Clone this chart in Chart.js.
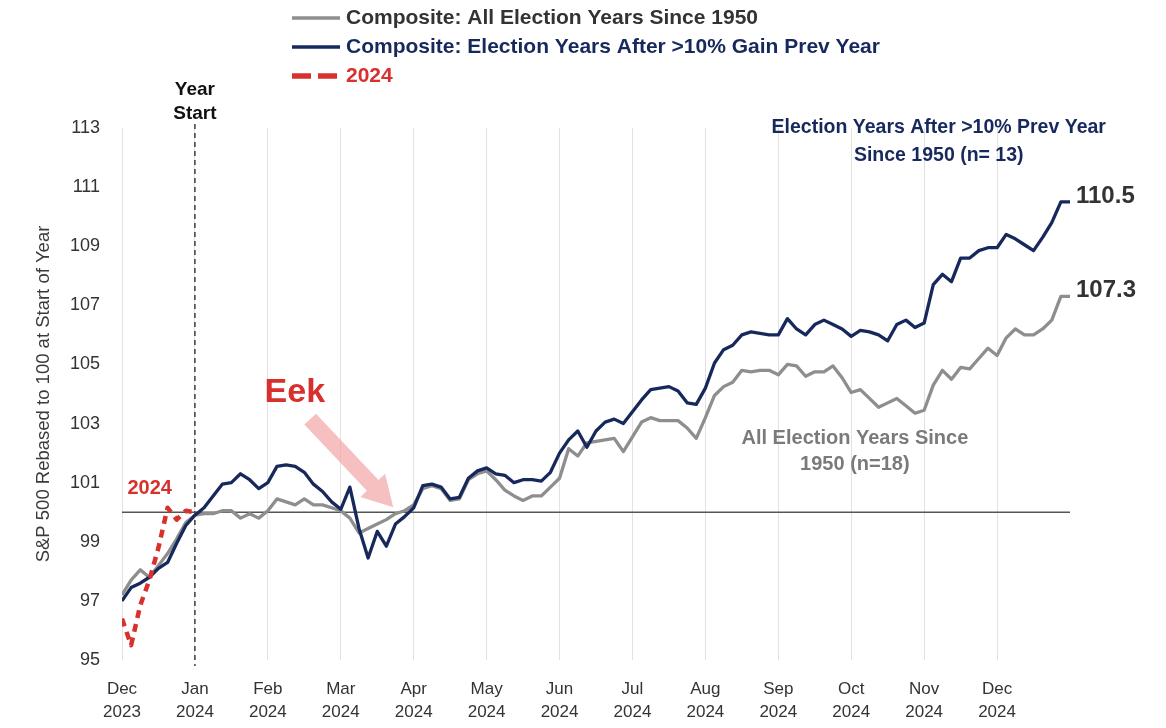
<!DOCTYPE html>
<html>
<head>
<meta charset="utf-8">
<script src="https://cdn.jsdelivr.net/npm/chart.js@4.4.1/dist/chart.umd.min.js"></script>
<style>
  html, body { margin: 0; padding: 0; background: #fff; }
  #chartContainer { display: block; }
</style>
</head>
<body>
<canvas id="chartContainer" width="1166" height="728"></canvas>
<script>
// Month ticks, Dec 2023 .. Dec 2024
var monthLabels = ['Dec', 'Jan', 'Feb', 'Mar', 'Apr', 'May', 'Jun', 'Jul', 'Aug', 'Sep', 'Oct', 'Nov', 'Dec'];
var yearLabels = ['2023', '2024', '2024', '2024', '2024', '2024', '2024', '2024', '2024', '2024', '2024', '2024', '2024'];
var yTicks = [95, 97, 99, 101, 103, 105, 107, 109, 111, 113];

// Values are sampled 8 times per month, starting Dec 1 2023
var stepsPerMonth = 8;

// Composite: all election years since 1950 (n=18)
var allElectionYears = [
    97.2, 97.7, 98.05, 97.8, 98.2, 98.6, 99.1, 99.65,
    99.9, 99.95, 99.95, 100.05, 100.05, 99.8, 99.95, 99.8,
    100.05, 100.45, 100.35, 100.25, 100.45, 100.25, 100.25, 100.15,
    100.05, 99.8, 99.3, 99.45, 99.6, 99.75, 99.95, 100.05,
    100.25, 100.8, 100.9, 100.8, 100.4, 100.45, 101.1, 101.3,
    101.4, 101.1, 100.75, 100.55, 100.4, 100.55, 100.55, 100.85,
    101.15, 102.15, 101.9, 102.35, 102.4, 102.45, 102.5, 102.05,
    102.55, 103.05, 103.2, 103.1, 103.1, 103.1, 102.85, 102.5,
    103.2, 103.95, 104.25, 104.4, 104.8, 104.75, 104.8, 104.8,
    104.65, 105.0, 104.95, 104.6, 104.75, 104.75, 104.95, 104.55,
    104.05, 104.15, 103.85, 103.55, 103.7, 103.85, 103.6, 103.35,
    103.45, 104.3, 104.8, 104.5, 104.9, 104.85, 105.2, 105.55,
    105.3, 105.9, 106.2, 106.0, 106.0, 106.2, 106.5, 107.3,
    107.3
];

// Composite: election years after a >10% gain the previous year (n=13)
var afterGainYears = [
    97.0, 97.45, 97.6, 97.8, 98.1, 98.3, 98.95, 99.55,
    99.9, 100.15, 100.55, 100.95, 101.0, 101.3, 101.1, 100.8,
    101.0, 101.55, 101.6, 101.55, 101.35, 100.95, 100.7, 100.35,
    100.1, 100.85, 99.45, 98.45, 99.35, 98.85, 99.6, 99.85,
    100.15, 100.9, 100.95, 100.85, 100.45, 100.5, 101.15, 101.4,
    101.5, 101.3, 101.25, 101.0, 101.1, 101.1, 101.05, 101.35,
    102.0, 102.45, 102.75, 102.2, 102.75, 103.05, 103.15, 103.0,
    103.4, 103.8, 104.15, 104.2, 104.25, 104.1, 103.7, 103.65,
    104.2, 105.05, 105.5, 105.65, 106.0, 106.1, 106.05, 106.0,
    106.0, 106.55, 106.2, 106.0, 106.35, 106.5, 106.35, 106.2,
    105.95, 106.15, 106.1, 106.0, 105.8, 106.35, 106.5, 106.25,
    106.4, 107.7, 108.05, 107.8, 108.6, 108.6, 108.85, 108.95,
    108.95, 109.4, 109.25, 109.05, 108.85, 109.3, 109.8, 110.5,
    110.5
];

// 2024 so far (December 2023 run-up)
var year2024 = [96.4, 95.5, 96.85, 97.7, 98.8, 100.15, 99.75, 100.05, 100.0];

var baseline = [100, 100];

function toPoints(values) {
    return values.map(function (v, i) { return { x: i / stepsPerMonth, y: v }; });
}

var colors = {
    grey: '#8e8e8e',
    navy: '#17295c',
    red: '#d8302c'
};

var overlayPlugin = {
    id: 'overlay',
    beforeDatasetsDraw: function (chart) {
        var ctx = chart.ctx;
        var area = chart.chartArea;
        var xs = chart.scales.x, ys = chart.scales.y;

        // Year start marker
        var x = xs.getPixelForValue(1);
        ctx.save();
        ctx.strokeStyle = '#111';
        ctx.lineWidth = 1.2;
        ctx.setLineDash([5, 4]);
        ctx.beginPath();
        ctx.moveTo(x, area.top - 4);
        ctx.lineTo(x, area.bottom + 6);
        ctx.stroke();
        ctx.restore();

        // "Eek" arrow
        var x0 = xs.getPixelForValue(2.58), y0 = ys.getPixelForValue(103.15);
        var x1 = xs.getPixelForValue(3.72), y1 = ys.getPixelForValue(100.17);
        var ang = Math.atan2(y1 - y0, x1 - x0);
        var len = Math.hypot(x1 - x0, y1 - y0);
        var shaft = 8, head = 17, headLen = 30;
        ctx.save();
        ctx.translate(x0, y0);
        ctx.rotate(ang);
        ctx.fillStyle = 'rgba(243, 165, 165, 0.7)';
        ctx.beginPath();
        ctx.moveTo(0, -shaft);
        ctx.lineTo(len - headLen, -shaft);
        ctx.lineTo(len - headLen, -head);
        ctx.lineTo(len, 0);
        ctx.lineTo(len - headLen, head);
        ctx.lineTo(len - headLen, shaft);
        ctx.lineTo(0, shaft);
        ctx.closePath();
        ctx.fill();
        ctx.restore();
    },
    afterDatasetsDraw: function (chart) {
        var ctx = chart.ctx;
        var area = chart.chartArea;
        var xs = chart.scales.x, ys = chart.scales.y;
        var family = '"Liberation Sans", Arial, sans-serif';

        function text(str, px, py, size, color, align) {
            ctx.font = 'bold ' + size + 'px ' + family;
            ctx.fillStyle = color;
            ctx.textAlign = align || 'center';
            ctx.textBaseline = 'middle';
            ctx.fillText(str, px, py);
        }
        function textAt(str, xv, yv, size, color, align) {
            text(str, xs.getPixelForValue(xv), ys.getPixelForValue(yv), size, color, align);
        }

        ctx.save();

        // Year start caption
        var jan = xs.getPixelForValue(1);
        text('Year', jan, area.top - 38, 19, '#111');
        text('Start', jan, area.top - 14, 19, '#111');

        // Series captions
        textAt('Election Years After >10% Prev Year', 11.2, 113.0, 19.5, colors.navy);
        textAt('Since 1950 (n= 13)', 11.2, 112.05, 19.5, colors.navy);
        textAt('All Election Years Since', 10.05, 102.5, 20, '#7a7a7a');
        textAt('1950 (n=18)', 10.05, 101.6, 20, '#7a7a7a');
        textAt('Eek', 2.37, 104.06, 34, colors.red);
        textAt('2024', 0.38, 100.8, 20, colors.red);

        // End-of-year values
        [afterGainYears, allElectionYears].forEach(function (series) {
            var last = series[series.length - 1];
            var px = xs.getPixelForValue((series.length - 1) / stepsPerMonth) + 6;
            var py = ys.getPixelForValue(last) - 6;
            text(last.toFixed(1), px, py, 24, '#333', 'left');
        });

        // Legend
        var rows = [
            { label: 'Composite: All Election Years Since 1950', color: colors.grey, text: '#333', dash: [], width: 3.5 },
            { label: 'Composite: Election Years After >10% Gain Prev Year', color: colors.navy, text: colors.navy, dash: [], width: 3.5 },
            { label: '2024', color: colors.red, text: colors.red, dash: [19, 7], width: 5.5 }
        ];
        rows.forEach(function (r, i) {
            var y = 18 + i * 29;
            ctx.strokeStyle = r.color;
            ctx.lineWidth = r.width;
            ctx.setLineDash(r.dash);
            ctx.beginPath();
            ctx.moveTo(292, y);
            ctx.lineTo(i === 2 ? 337 : 340, y);
            ctx.stroke();
            ctx.setLineDash([]);
            text(r.label, 346, y, 21, r.text, 'left');
        });

        ctx.restore();
    }
};

Chart.defaults.font.family = '"Liberation Sans", Arial, sans-serif';

var ctx = document.getElementById('chartContainer').getContext('2d');
window.electionChart = new Chart(ctx, {
    type: 'line',
    data: {
        datasets: [{
            label: '2024',
            data: toPoints(year2024),
            borderColor: colors.red,
            borderWidth: 4.5,
            borderDash: [8, 6],
            order: 0
        }, {
            label: 'Composite: Election Years After >10% Gain Prev Year',
            data: toPoints(afterGainYears),
            borderColor: colors.navy,
            borderWidth: 3.3,
            order: 1
        }, {
            label: 'Composite: All Election Years Since 1950',
            data: toPoints(allElectionYears),
            borderColor: colors.grey,
            borderWidth: 3.3,
            order: 2
        }, {
            label: 'Base',
            data: [{ x: 0, y: baseline[0] }, { x: 13, y: baseline[1] }],
            borderColor: '#555',
            borderWidth: 1.5,
            order: 3
        }]
    },
    options: {
        responsive: false,
        animation: false,
        parsing: false,
        elements: {
            point: { radius: 0 },
            line: { tension: 0, borderJoinStyle: 'round' }
        },
        layout: { padding: { left: 30, right: 96, top: 128, bottom: 0 } },
        plugins: {
            legend: { display: false },
            tooltip: { enabled: false }
        },
        scales: {
            x: {
                type: 'linear',
                min: 0,
                max: 13,
                afterBuildTicks: function (scale) {
                    scale.ticks = monthLabels.map(function (_, i) { return { value: i }; });
                },
                grid: { color: '#e2e2e2', lineWidth: 1, drawTicks: false },
                border: { display: false },
                ticks: {
                    color: '#333',
                    font: { size: 17, lineHeight: 1.35 },
                    padding: 18,
                    maxRotation: 0,
                    autoSkip: false,
                    callback: function (value, index) {
                        return [monthLabels[index], yearLabels[index]];
                    }
                },
                afterFit: function (scale) { scale.height = 68; }
            },
            y: {
                min: yTicks[0],
                max: yTicks[yTicks.length - 1],
                afterBuildTicks: function (scale) {
                    scale.ticks = yTicks.map(function (v) { return { value: v }; });
                },
                grid: { display: false, drawTicks: false },
                border: { display: false },
                ticks: { color: '#333', font: { size: 18 }, padding: 22 },
                title: {
                    display: true,
                    text: 'S&P 500 Rebased to 100 at Start of Year',
                    color: '#3a3a3a',
                    font: { size: 18.5 },
                    padding: { top: 3, bottom: 4 }
                },
                afterFit: function (scale) { scale.width = 92; }
            }
        }
    },
    plugins: [overlayPlugin]
});
</script>
</body>
</html>
